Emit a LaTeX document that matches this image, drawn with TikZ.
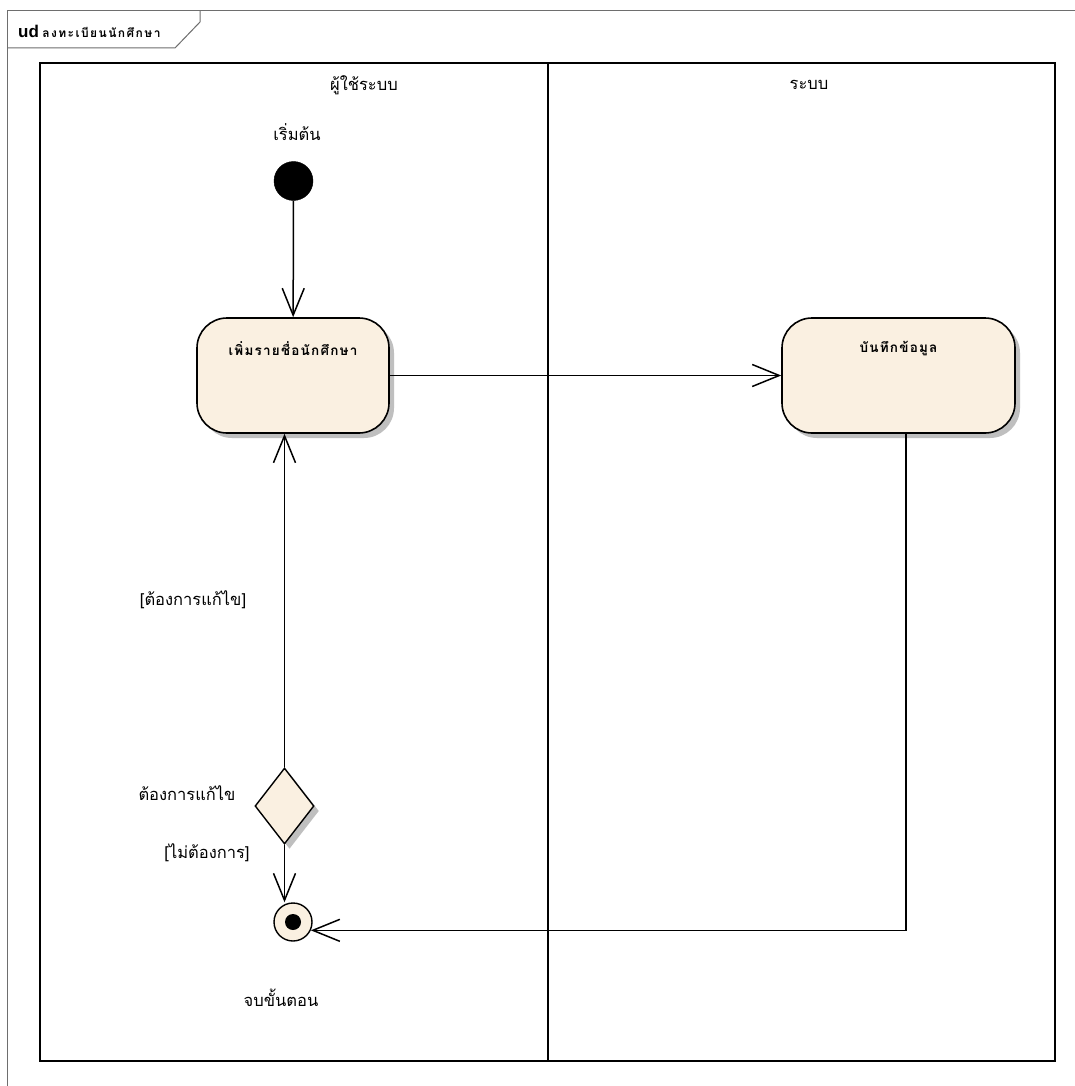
\documentclass[tikz,border=0pt]{standalone}
\usepackage{fontspec}
\newfontfamily\thai[Script=Thai]{Loma}
\newfontfamily\thaisp[Script=Thai, LetterSpace=9]{Loma}
\newfontfamily\thaisq[Script=Thai, LetterSpace=12]{Loma}
\newfontfamily\latinb{Liberation Sans}
\usetikzlibrary{arrows.meta,shapes.geometric,shadows}
\definecolor{actfill}{RGB}{250,240,225}
\definecolor{frameline}{RGB}{110,110,110}
\tikzset{
  x=1pt,y=-1pt,
  txt/.style={font=\thai\fontsize{16.5}{19}\selectfont, inner sep=0pt},
  boldtxt/.style={font=\thaisp\bfseries\fontsize{13.5}{15}\selectfont, inner sep=0pt},
  shadowed/.style={drop shadow={shadow xshift=5pt, shadow yshift=-5pt, fill=black!25, opacity=1}},
  startnode/.style={circle, fill=black, draw=black, minimum size=39pt, inner sep=0pt},
  endnode/.style={circle, fill=actfill, draw=black, line width=1.4pt, minimum size=38pt, inner sep=0pt,
     path picture={\fill[black] (path picture bounding box.center) circle (8pt);}},
  action/.style={rectangle, rounded corners=30pt, fill=actfill, draw=black, line width=1.6pt,
     minimum width=192pt, minimum height=115pt, inner sep=0pt, shadowed},
  decision/.style={diamond, fill=actfill, draw=black, line width=1.4pt, minimum width=59pt,
     minimum height=76pt, inner sep=0pt, shadowed},
  flow/.style={draw=black, line width=1.5pt, -{Straight Barb[length=27pt,width=22pt,line width=1.5pt]}},
  lane/.style={draw=black, line width=1.9pt},
}
\begin{document}
\begin{tikzpicture}
\useasboundingbox (0,0) rectangle (1075,1086);
\fill[white] (0,0) rectangle (1075,1086);
% outer frame
\draw[frameline, line width=1pt] (7,1086) -- (7,11) -- (1075,11);
\draw[frameline, line width=1pt] (7,48) -- (175,48) -- (200,22) -- (200,11);
\node[anchor=west, inner sep=0pt] (title) at (18,31) {{\latinb\bfseries\fontsize{17}{20}\selectfont ud} {\thaisq\bfseries\fontsize{12}{14}\selectfont ลงทะเบียนนักศึกษา}};
% swimlanes
\draw[lane] (40,63) rectangle (1055,1061);
\draw[lane] (548,63) -- (548,1061);
\node[txt] (lane1) at (364,85) {ผู้ใช้ระบบ};
\node[txt] (lane2) at (809,85) {ระบบ};
% nodes
\node[startnode] (start) at (293.5,181) {};
\node[txt] (startlbl) at (297,132) {เริ่มต้น};
\node[action, label={[boldtxt, anchor=center, yshift=-31pt]north:เพิ่มรายชื่อนักศึกษา}] (a1) at (293,375.5) {};
\node[action, minimum width=233pt, label={[boldtxt, anchor=center, yshift=-31pt]north:บันทึกข้อมูล}] (a2) at (898.5,375.5) {};
\node[decision] (dec) at (284.5,806) {};
\node[txt] (declbl) at (187,793) {ต้องการแก้ไข};
\node[endnode] (end) at (293,922) {};
\node[txt] (endlbl) at (281,998) {จบขั้นตอน};
\node[txt] (g1) at (193,600) {[ต้องการแก้ไข]};
\node[txt] (g2) at (207,853) {[ไม่ต้องการ]};
% connectors
\draw[flow] (start) -- (a1);
\draw[flow] (a1) -- (a2);
\draw[flow] ([xshift=7.5pt]a2.south) |- (end.-25);
\draw[flow] (dec.north) -- (dec.north |- a1.south);
\draw[flow] (dec.south) -- (dec.south |- end.north);
\end{tikzpicture}
\end{document}
